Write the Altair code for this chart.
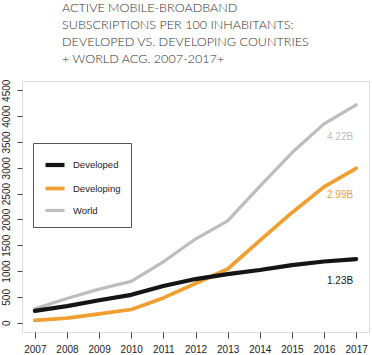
import altair as alt
import pandas as pd

years = [2007, 2008, 2009, 2010, 2011, 2012, 2013, 2014, 2015, 2016, 2017]
developed = [230, 320, 435, 540, 710, 845, 940, 1020, 1115, 1185, 1230]
developing = [45, 90, 170, 255, 480, 760, 1040, 1590, 2130, 2630, 2990]
world = [270, 470, 650, 800, 1180, 1620, 1970, 2640, 3290, 3850, 4220]

series_names = ["Developed", "Developing", "World"]
series_colors = ["#151515", "#f0a030", "#bdbdbd"]

end_labels = ["1.23B", "2.99B", "4.22B"]
end_label_x = [2016.5, 2016.5, 2016.5]
end_label_y = [800, 2470, 3600]
y_ticks = [0, 500, 1000, 1500, 2000, 2500, 3000, 3500, 4000, 4500]

rows = []
for name, vals in [("World", world), ("Developing", developing), ("Developed", developed)]:
    for yr, v in zip(years, vals):
        rows.append({"year": yr, "value": v, "series": name})
df = pd.DataFrame(rows)

ann = pd.DataFrame({"year": end_label_x, "value": end_label_y,
                    "label": end_labels, "series": series_names})

xscale = alt.Scale(domain=[2006.6, 2017.4], nice=False, zero=False)
yscale = alt.Scale(domain=[-180, 4680], nice=False, zero=False)
cscale = alt.Scale(domain=series_names, range=series_colors)

xaxis = alt.Axis(values=years, format="d", grid=False, domain=False,
                 tickSize=6, tickColor="#444", labelPadding=6,
                 labelFontSize=10, labelColor="#222", labelFont="Liberation Sans",
                 labelFlush=False, labelOverlap=False)
yaxis = alt.Axis(values=y_ticks, format="d", grid=False, domain=False,
                 tickSize=5, tickColor="#444", labelAngle=270,
                 labelAlign="center", labelBaseline="bottom", labelPadding=6,
                 labelFontSize=10, labelColor="#222", labelFont="Liberation Sans",
                 labelFlush=False, labelOverlap=False)

lines = alt.Chart(df).mark_line(strokeCap="round", strokeJoin="round", clip=True).encode(
    x=alt.X("year:Q", scale=xscale, title=None, axis=xaxis),
    y=alt.Y("value:Q", scale=yscale, title=None, axis=yaxis),
    color=alt.Color("series:N", scale=cscale, sort=series_names,
                    legend=alt.Legend(title=None, orient="none", legendX=11, legendY=62,
                                      symbolType="stroke", symbolSize=361,
                                      symbolStrokeWidth=4, labelFontSize=9.5,
                                      labelFont="Liberation Sans", labelColor="#222",
                                      labelOffset=6, rowPadding=3, padding=10,
                                      strokeColor="#555", fillColor="white")),
    strokeWidth=alt.StrokeWidth("series:N", scale=alt.Scale(domain=series_names, range=[4.2, 3.2, 3.2]),
                                legend=None),
)

labels = alt.Chart(ann).mark_text(fontSize=10, font="Liberation Sans", align="center",
                                  baseline="middle").encode(
    x=alt.X("year:Q", scale=xscale, title=None, axis=xaxis),
    y=alt.Y("value:Q", scale=yscale, title=None, axis=yaxis),
    text="label:N",
    color=alt.Color("series:N", scale=cscale, legend=None),
)

chart = alt.layer(lines, labels).properties(
    width=347, height=251,
    autosize=alt.AutoSizeParams(type="none"),
    padding={"left": 22, "top": 81, "right": 3, "bottom": 23},
    title=alt.TitleParams(
        text=["ACTIVE MOBILE-BROADBAND", "SUBSCRIPTIONS PER 100 INHABITANTS:",
              "DEVELOPED VS. DEVELOPING COUNTRIES", "+ WORLD ACG. 2007-2017+"],
        anchor="start", dx=40, offset=14, fontSize=12.6, font="Lato", fontWeight=300,
        color="#333", lineHeight=16.7, frame="group"),
).configure_view(stroke="#888", strokeWidth=1).configure(background="white")

chart.save("out.html", embed_options={"renderer": "svg", "actions": False})
